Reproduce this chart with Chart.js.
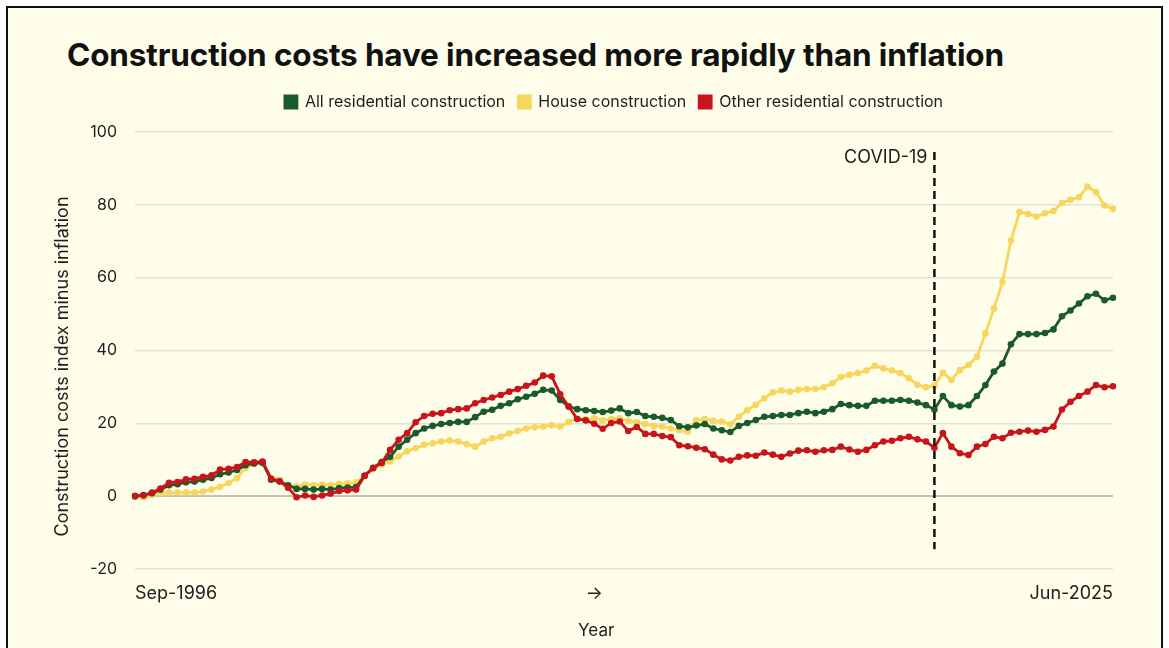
<!DOCTYPE html>
<html>
<head>
<meta charset="utf-8">
<script src="https://cdn.jsdelivr.net/npm/chart.js@4.4.1/dist/chart.umd.min.js"></script>
<style>
  html, body { margin: 0; padding: 0; background: #fff; }
  body { width: 1169px; height: 648px; overflow: hidden; position: relative; font-family: Inter, sans-serif; }
  #frame { position: absolute; left: 6px; top: 6px; width: 1153px; height: 700px; border: 2px solid #111; background: #fdfde9; }
  #title { position: absolute; left: 67px; top: 35px; font: 700 31.5px Inter, sans-serif; letter-spacing: -0.15px; color: #111; white-space: nowrap; }
  #wrap { position: absolute; left: 0; top: 0; width: 1169px; height: 648px; }
</style>
</head>
<body>
<div id="frame"></div>
<div id="title">Construction costs have increased more rapidly than inflation</div>
<div id="wrap"><canvas id="chart" width="1169" height="648"></canvas></div>
<script>
// quarterly, Sep-1996 .. Jun-2025
const quarterMonths = ['Mar', 'Jun', 'Sep', 'Dec'];
const quarters = [];
for (let q = 2; quarters.length < 116; q++) {
    quarters.push(quarterMonths[q % 4] + '-' + (1996 + Math.floor(q / 4)));
}

const allResidential = [
    0, 0.3, 0.8, 1.8, 3.0, 3.3, 3.8, 4.0, 4.5, 5.0,
    6.0, 6.5, 7.2, 8.5, 9.0, 9.2, 4.5, 4.0, 3.0, 2.0,
    2.0, 1.8, 2.0, 1.8, 2.2, 2.4, 2.5, 5.6, 7.8, 9.4,
    10.8, 13.6, 15.5, 17.3, 18.6, 19.3, 19.8, 20.1, 20.4, 20.4,
    21.7, 23.2, 23.7, 24.8, 25.5, 26.6, 27.3, 28.1, 29.2, 29.0,
    26.4, 24.6, 23.9, 23.6, 23.4, 23.1, 23.5, 24.1, 22.8, 23.1,
    22.0, 21.8, 21.5, 20.9, 19.2, 18.9, 19.4, 19.8, 18.6, 18.1,
    17.6, 19.3, 20.1, 20.9, 21.8, 22.0, 22.3, 22.3, 22.8, 23.2,
    22.8, 23.2, 23.9, 25.3, 25.0, 24.8, 24.8, 26.2, 26.2, 26.2,
    26.4, 26.2, 25.7, 25.0, 23.8, 27.5, 25.0, 24.6, 25.0, 27.5,
    30.5, 34.2, 36.4, 41.7, 44.5, 44.5, 44.5, 44.8, 45.8, 49.4,
    51.0, 52.9, 54.9, 55.6, 53.8, 54.5
];
const house = [
    0, -0.3, 0.3, 0.8, 1.0, 1.0, 1.0, 1.0, 1.3, 1.8,
    2.6, 3.6, 5.0, 7.8, 8.8, 9.0, 5.0, 4.5, 3.0, 2.7,
    3.2, 3.0, 3.2, 3.0, 3.4, 3.5, 3.8, 5.6, 7.5, 8.6,
    9.5, 10.9, 12.3, 13.2, 14.1, 14.5, 15.0, 15.3, 15.0, 14.3,
    13.6, 15.0, 15.9, 16.3, 17.2, 17.9, 18.6, 18.9, 19.1, 19.5,
    19.1, 20.4, 21.3, 21.1, 21.4, 20.8, 21.2, 21.4, 20.7, 20.3,
    19.8, 19.3, 19.1, 18.6, 18.1, 17.7, 20.8, 21.2, 20.7, 20.5,
    19.7, 21.8, 23.6, 25.1, 26.9, 28.5, 29.0, 28.7, 29.2, 29.4,
    29.4, 29.9, 31.0, 32.7, 33.3, 33.8, 34.5, 35.8, 35.1, 34.5,
    33.8, 32.4, 30.6, 29.9, 30.3, 33.9, 31.9, 34.6, 36.0, 38.3,
    44.7, 51.5, 58.8, 70.2, 78.0, 77.5, 76.8, 77.7, 78.3, 80.5,
    81.4, 82.1, 85.0, 83.5, 79.8, 78.9
];
const otherResidential = [
    0, 0.2, 1.0, 2.1, 3.7, 3.9, 4.6, 4.8, 5.3, 5.7,
    7.3, 7.5, 8.0, 9.4, 9.3, 9.5, 4.8, 4.1, 2.3, -0.3,
    0.2, -0.2, 0.2, 0.7, 1.4, 1.6, 1.8, 5.6, 7.7, 9.1,
    12.7, 15.5, 17.3, 20.3, 22.0, 22.6, 22.8, 23.6, 23.9, 24.1,
    25.5, 26.4, 27.1, 27.8, 28.7, 29.4, 30.3, 31.2, 33.1, 32.9,
    28.0, 24.6, 21.2, 20.8, 19.9, 18.5, 20.1, 20.5, 17.9, 19.0,
    17.1, 17.1, 16.5, 16.2, 14.0, 13.7, 13.3, 12.9, 11.4, 10.1,
    9.8, 10.8, 11.2, 11.1, 12.0, 11.4, 10.8, 11.7, 12.5, 12.6,
    12.2, 12.6, 12.7, 13.6, 12.8, 12.2, 12.7, 14.0, 15.0, 15.2,
    15.9, 16.3, 15.6, 15.0, 13.3, 17.3, 13.6, 11.8, 11.3, 13.6,
    14.3, 16.3, 15.9, 17.4, 17.7, 18.0, 17.7, 18.2, 19.1, 23.8,
    25.9, 27.5, 28.7, 30.5, 29.9, 30.2
];

// only three labels are shown under the axis
const tickAt = [0, 54, 115];
const tickText = ['Sep-1996', '→', 'Jun-2025'];
const yTicks = [-20, 0, 20, 40, 60, 80, 100];

const covidIndex = 94; // Mar-2020
const GREEN = '#1b5a2b';
const YELLOW = '#f6d65c';
const RED = '#c8151c';
const TEXT = '#1e1e1e';

Chart.defaults.font.family = 'Inter, sans-serif';

// dashed COVID-19 marker + the two axis titles (they sit off-centre in the original)
const extras = {
    id: 'extras',
    afterDatasetsDraw(chart) {
        const { ctx, chartArea, scales: { x, y } } = chart;
        const px = x.getPixelForValue(covidIndex);
        ctx.save();
        ctx.strokeStyle = '#111';
        ctx.lineWidth = 2.5;
        ctx.setLineDash([8, 5]);
        ctx.beginPath();
        ctx.moveTo(px, y.getPixelForValue(94.5));
        ctx.lineTo(px, y.getPixelForValue(-14.6));
        ctx.stroke();
        ctx.setLineDash([]);
        ctx.fillStyle = TEXT;
        ctx.font = '18px Inter, sans-serif';
        ctx.textAlign = 'right';
        ctx.textBaseline = 'middle';
        ctx.fillText('COVID-19', px - 7, y.getPixelForValue(93));

        ctx.textAlign = 'center';
        ctx.font = '17px Inter, sans-serif';
        ctx.fillText('Year', x.getPixelForValue(tickAt[1]) + 2, 631);
        ctx.translate(63, (chartArea.top + chartArea.bottom) / 2 + 16);
        ctx.rotate(-Math.PI / 2);
        ctx.font = '18px Inter, sans-serif';
        ctx.fillText('Construction costs index minus inflation', 0, 0);
        ctx.restore();
    }
};

// the legend sits a bit higher and left of where Chart.js puts it
const legendNudge = {
    id: 'legendNudge',
    afterLayout(chart) {
        const l = chart.legend;
        l.top -= 12; l.bottom -= 12;
        l.left -= 10; l.right -= 10;
    }
};

new Chart(document.getElementById('chart'), {
    type: 'line',
    data: {
        labels: quarters,
        datasets: [
            { label: 'All residential construction', data: allResidential, borderColor: GREEN, backgroundColor: GREEN, order: 2 },
            { label: 'House construction', data: house, borderColor: YELLOW, backgroundColor: YELLOW, order: 3 },
            { label: 'Other residential construction', data: otherResidential, borderColor: RED, backgroundColor: RED, order: 1 }
        ]
    },
    options: {
        responsive: false,
        animation: false,
        layout: { padding: { left: 50, right: 56, top: 93, bottom: 0 } },
        elements: {
            line: { borderWidth: 2.8, tension: 0 },
            point: { radius: 3.3, borderWidth: 0, hoverRadius: 3.3 }
        },
        plugins: {
            legend: {
                position: 'top',
                fullSize: false,
                labels: {
                    boxWidth: 12, boxHeight: 12, padding: 13,
                    color: TEXT, font: { size: 16 },
                    sort: (a, b) => a.datasetIndex - b.datasetIndex
                }
            },
            tooltip: { enabled: false }
        },
        scales: {
            x: {
                grid: { display: false, drawTicks: false },
                border: { display: false },
                ticks: {
                    autoSkip: false, maxRotation: 0, align: 'inner', padding: 14,
                    color: TEXT, font: { size: 18 },
                    callback: (v, i) => {
                        const k = tickAt.indexOf(i);
                        return k < 0 ? '' : tickText[k];
                    }
                },
                afterFit: s => { s.height = 79; }
            },
            y: {
                min: -20, max: 100,
                afterBuildTicks: s => { s.ticks = yTicks.map(v => ({ value: v })); },
                grid: {
                    drawTicks: false,
                    color: c => c.tick.value === 0 ? '#c4c4b6' : '#e3e3d4',
                    lineWidth: c => c.tick.value === 0 ? 2 : 1.5
                },
                border: { display: false },
                ticks: { padding: 18, color: TEXT, font: { size: 16 } },
                afterFit: s => { s.width = 85; }
            }
        }
    },
    plugins: [extras, legendNudge]
});
</script>
</body>
</html>
